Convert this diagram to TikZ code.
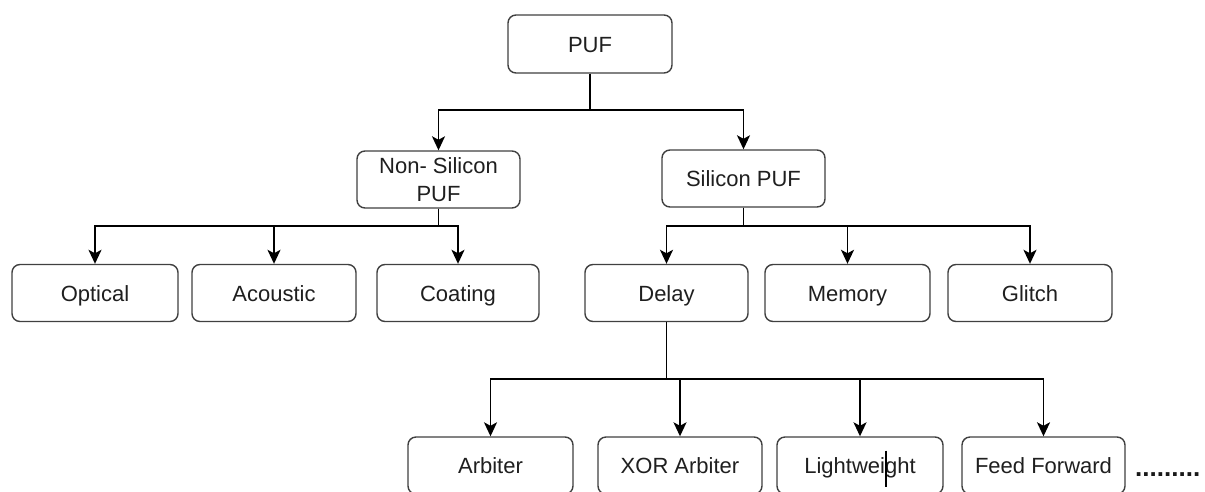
\documentclass[tikz,border=0pt]{standalone}
\usepackage{fontspec}
\setmainfont{Liberation Sans}
\usetikzlibrary{arrows.meta,calc}

\tikzset{
  box/.style={draw=black!75, line width=1.4pt, rounded corners=8pt, fill=white,
              minimum width=164pt, minimum height=57pt, inner sep=2pt,
              align=center, text=black!88, text height=21pt, text depth=5pt,
              font=\fontsize{22}{28}\selectfont},
  link/.style={draw=black, line width=1.8pt,
               -{Stealth[length=14pt,width=13pt,inset=3.5pt]}}
}

\begin{document}
\begin{tikzpicture}[x=1pt,y=-1pt]
  \useasboundingbox (0,0) rectangle (1205,491);

  % root
  \node[box, minimum height=58pt] (puf) at (590,44) {PUF};

  % second level
  \node[box, minimum width=163pt, text height=, text depth=] (nonsi) at (438.5,179.5) {Non- Silicon\\PUF};
  \node[box, minimum width=163pt] (si) at (743.5,178.5) {Silicon PUF};

  % third level
  \node[box, minimum width=166pt] (optical)  at (95,293)    {Optical};
  \node[box]                      (acoustic) at (274,293)   {Acoustic};
  \node[box, minimum width=162pt] (coating)  at (458,293)   {Coating};
  \node[box, minimum width=163pt] (delay)    at (666.5,293) {Delay};
  \node[box, minimum width=165pt] (memory)   at (847.5,293) {Memory};
  \node[box]                      (glitch)   at (1030,293)  {Glitch};

  % delay-based variants
  \node[box, minimum width=165pt] (arbiter) at (490.5,465.5)  {Arbiter};
  \node[box]                      (xorarb)  at (680,465.5)    {XOR Arbiter};
  \node[box, minimum width=166pt] (light)   at (860,465.5)    {Lightweight};
  \node[box, minimum width=163pt] (feedfw)  at (1043.5,465.5) {Feed Forward};
  \node[anchor=base west, inner sep=0pt, text=black!90,
        font=\fontsize{26}{28}\selectfont\bfseries] (more) at (1135,476) {.........};

  % bus levels
  \coordinate (busA) at (0,110);
  \coordinate (busB) at (0,226);
  \coordinate (busC) at (0,379);

  % PUF -> non-silicon / silicon
  \draw[link] (puf.south) -- (puf.south |- busA) -| (nonsi.north);
  \draw[link] (puf.south) -- (puf.south |- busA) -| (si.north);

  % non-silicon -> optical / acoustic / coating
  \draw[link] (nonsi.south) -- (nonsi.south |- busB) -| (optical.north);
  \draw[link] (nonsi.south) -- (nonsi.south |- busB) -| (acoustic.north);
  \draw[link] (nonsi.south) -- (nonsi.south |- busB) -| (coating.north);

  % silicon -> delay / memory / glitch
  \draw[link] (si.south) -- (si.south |- busB) -| (delay.north);
  \draw[link] (si.south) -- (si.south |- busB) -| (memory.north);
  \draw[link] (si.south) -- (si.south |- busB) -| (glitch.north);

  % delay -> variants
  \draw[link] (delay.south) -- (delay.south |- busC) -| (arbiter.north);
  \draw[link] (delay.south) -- (delay.south |- busC) -| (xorarb.north);
  \draw[link] (delay.south) -- (delay.south |- busC) -| (light.north);
  \draw[link] (delay.south) -- (delay.south |- busC) -| (feedfw.north);

  % text cursor left in the Lightweight label
  \draw[black, line width=1.2pt] ($(light.center)+(26,-15)$) -- ($(light.center)+(26,21)$);
\end{tikzpicture}
\end{document}
